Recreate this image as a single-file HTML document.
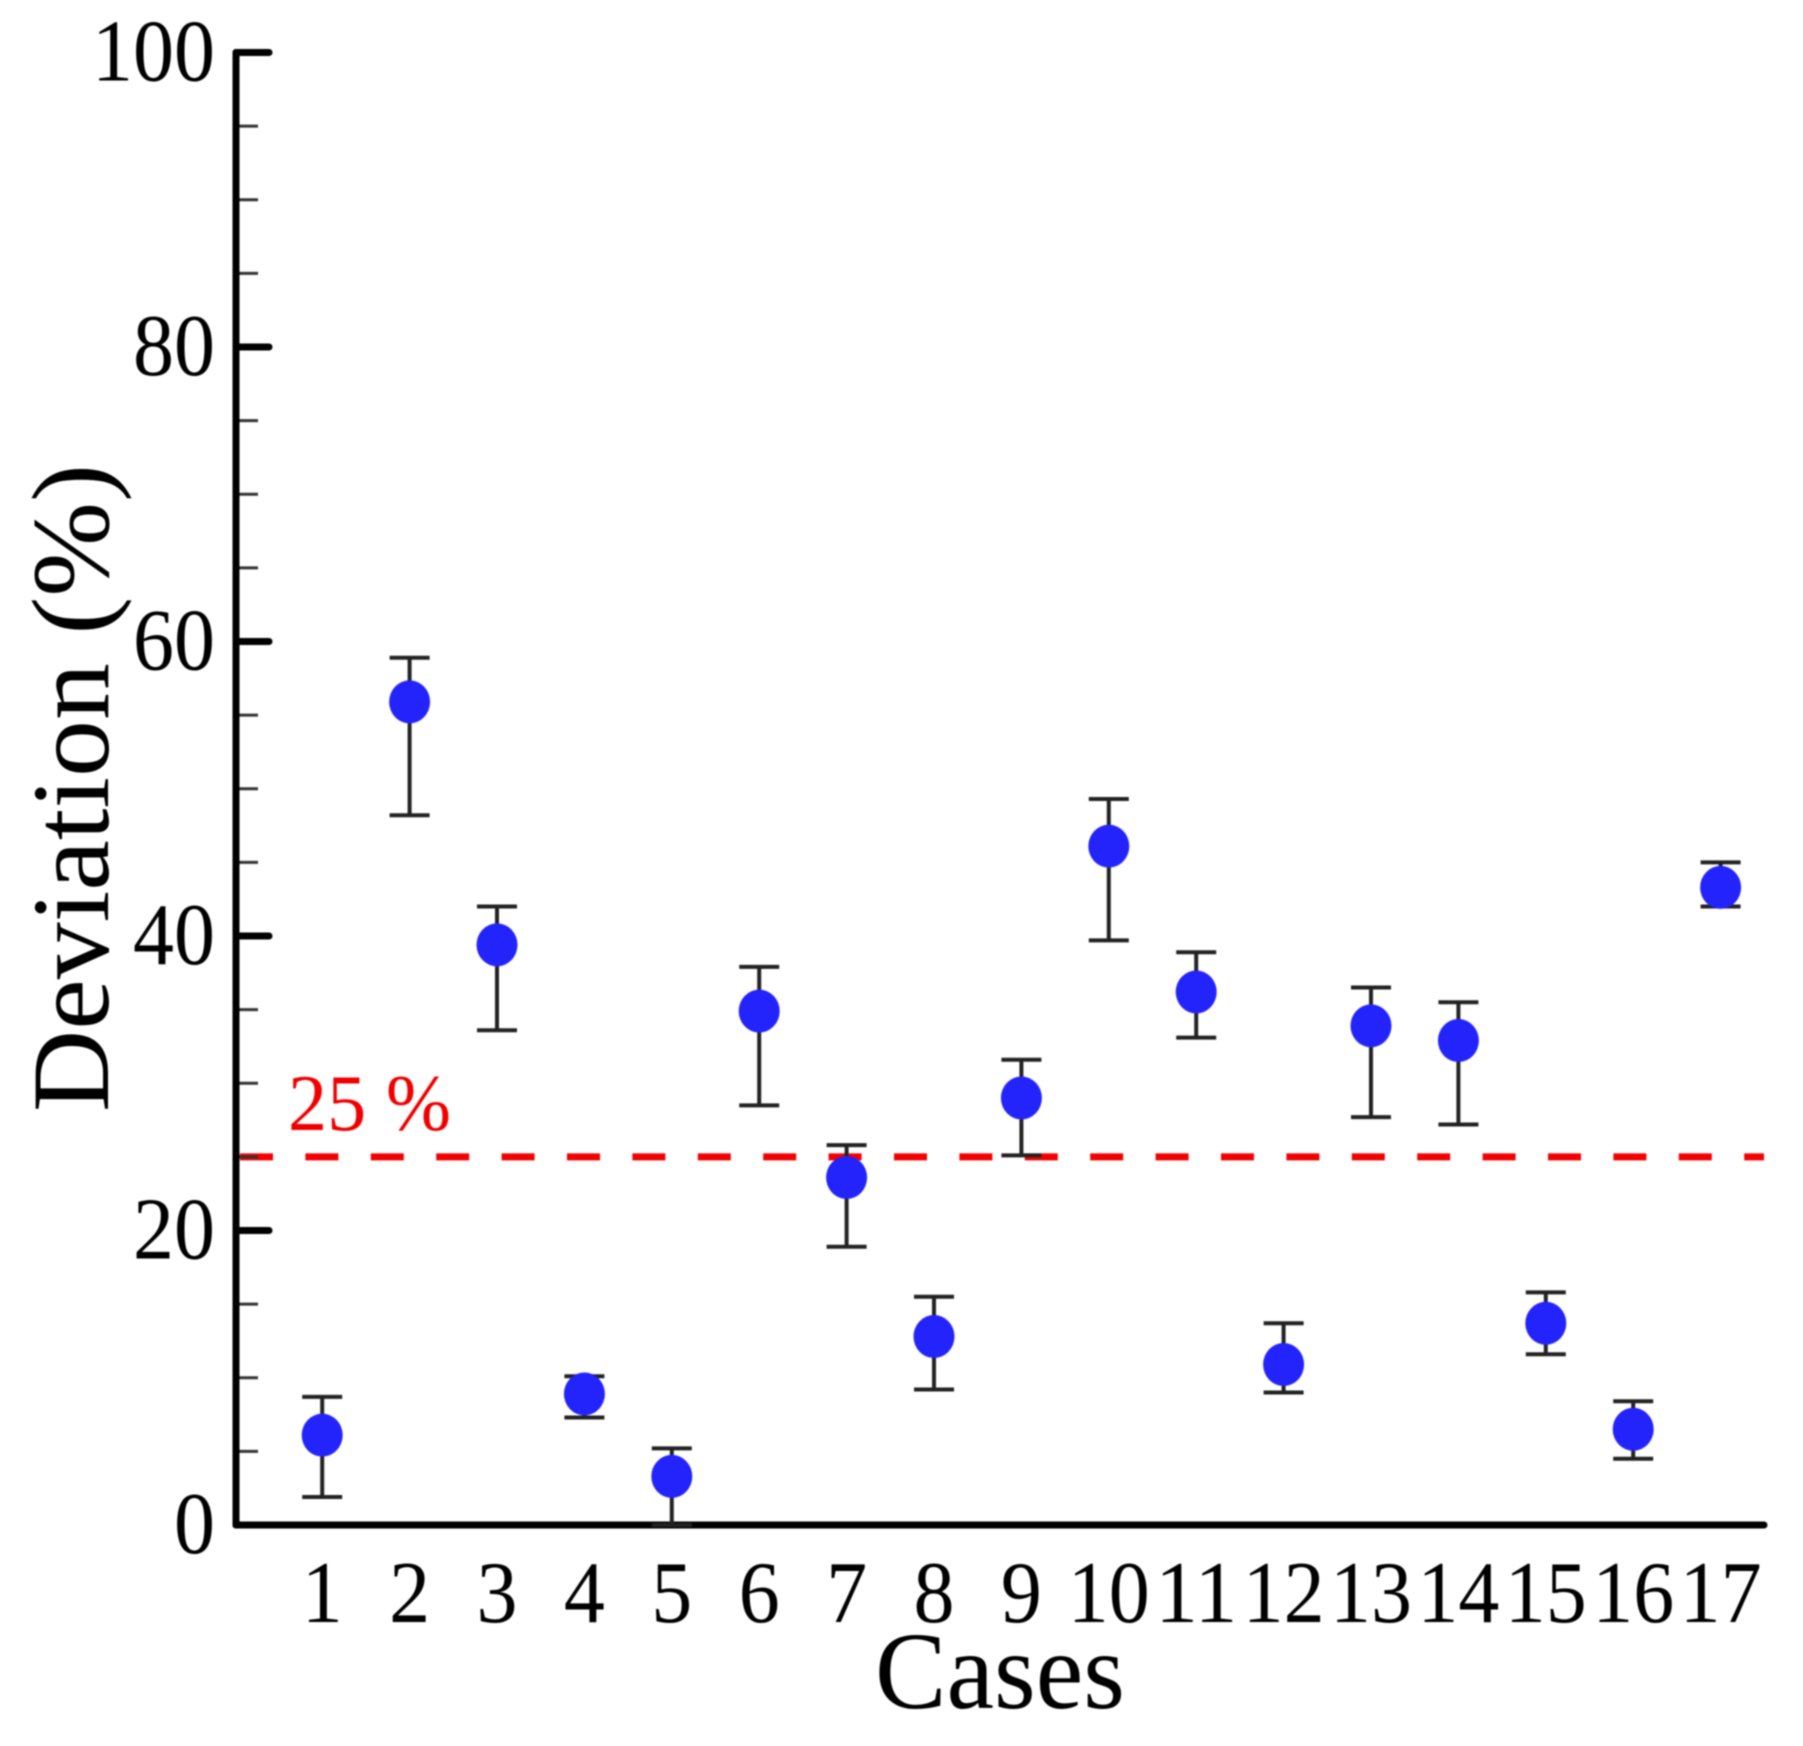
<!DOCTYPE html>
<html lang="en">
<head>
<meta charset="utf-8">
<title>Deviation by case</title>
<style>
html,body{margin:0;padding:0;background:#fff;}
#chart{display:block;width:1803px;height:1746px;filter:blur(0.9px);font-family:"Liberation Serif",serif;}
</style>
</head>
<body>
<svg id="chart" xmlns="http://www.w3.org/2000/svg" width="1803" height="1746" viewBox="0 0 1803 1746"></svg>
<script>
const categories = [1,2,3,4,5,6,7,8,9,10,11,12,13,14,15,16,17];
const deviation = [6.1,55.9,39.4,8.9,3.3,34.9,23.6,12.8,29,46.1,36.2,10.9,33.9,32.9,13.7,6.5,43.3];
const errorHigh = [8.7,58.9,42,10.1,5.2,37.9,25.8,15.5,31.6,49.3,38.9,13.7,36.5,35.5,15.8,8.4,45];
const errorLow = [1.9,48.2,33.6,7.3,0,28.5,18.9,9.2,25.1,39.7,33.1,9,27.7,27.2,11.6,4.5,42];
const yMajorTicks = [0,20,40,60,80,100];
const yMinorTicks = [5,10,15,25,30,35,45,50,55,65,70,75,85,90,95];
const thresholdValue = 25;
const thresholdLabel = "25 %";

const svg = document.getElementById('chart');
const NS = 'http://www.w3.org/2000/svg';
const axisLeft = 236, axisRight = 1764, axisTop = 52.5, axisBottom = 1525;
const xScale = v => 234.8 + v * 87.4;
const yScale = v => axisBottom - v * (axisBottom - axisTop) / 100;
const digitWidth = 41;

function mk(tag, attrs, text) {
  const el = document.createElementNS(NS, tag);
  for (const k in attrs) el.setAttribute(k, attrs[k]);
  if (text !== undefined) el.textContent = text;
  svg.appendChild(el);
  return el;
}

// threshold line
const thresholdLine = mk('line', {x1: axisLeft + 4, x2: axisRight, y1: yScale(thresholdValue), y2: yScale(thresholdValue), stroke: '#f40000', 'stroke-width': 7, 'stroke-dasharray': '33 32.4'});


const thresholdText = mk('text', {x: 288, y: 1130, 'font-size': 80, fill: '#f00000', textLength: 163, lengthAdjust: 'spacingAndGlyphs'}, thresholdLabel);



// minor ticks
yMinorTicks.forEach(v => {
  const t = mk('line', {x1: axisLeft, x2: axisLeft + 22, y1: yScale(v), y2: yScale(v), stroke: '#333', 'stroke-width': 3});
  
  
});

// major ticks and labels
yMajorTicks.forEach(v => {
  const t = mk('line', {x1: axisLeft, x2: axisLeft + 33, y1: yScale(v), y2: yScale(v), stroke: '#000', 'stroke-width': 7, 'stroke-linecap': 'round'});
  
  
  const s = String(v);
  const l = mk('text', {x: 215, y: yScale(v) + 28, 'font-size': 88, 'text-anchor': 'end', fill: '#000', textLength: s.length * digitWidth, lengthAdjust: 'spacingAndGlyphs'}, s);
  
  
});

// axes
const yAxis = mk('line', {x1: axisLeft, x2: axisLeft, y1: axisTop, y2: axisBottom, stroke: '#000', 'stroke-width': 7, 'stroke-linecap': 'round'});


const xAxis = mk('line', {x1: axisLeft, x2: axisRight, y1: axisBottom, y2: axisBottom, stroke: '#000', 'stroke-width': 7, 'stroke-linecap': 'round'});



// x labels
categories.forEach(c => {
  const s = String(c);
  const l = mk('text', {x: xScale(c), y: 1622, 'font-size': 88, 'text-anchor': 'middle', fill: '#000', textLength: s.length * digitWidth, lengthAdjust: 'spacingAndGlyphs'}, s);
  
  
});

// error bars
categories.forEach((c, i) => {
  const x = xScale(c), yh = yScale(errorHigh[i]), yl = yScale(errorLow[i]);
  const stem = mk('line', {x1: x, x2: x, y1: yh, y2: yl, stroke: '#222', 'stroke-width': 4});
  
  
  const capTop = mk('line', {x1: x - 20, x2: x + 20, y1: yh, y2: yh, stroke: '#222', 'stroke-width': 4});
  
  
  const capBot = mk('line', {x1: x - 20, x2: x + 20, y1: yl, y2: yl, stroke: '#222', 'stroke-width': 4});
  
  
});

// points
categories.forEach((c, i) => {
  const p = mk('ellipse', {cx: xScale(c), cy: yScale(deviation[i]), rx: 20.5, ry: 21.5, fill: '#2323fb'});
  
  
});

// axis titles
const xTitle = mk('text', {x: 1000, y: 1708, 'font-size': 110, 'text-anchor': 'middle', fill: '#000', textLength: 250, lengthAdjust: 'spacingAndGlyphs'}, 'Cases');


const yTitle = mk('text', {x: 0, y: 0, 'font-size': 110, 'text-anchor': 'middle', fill: '#000', textLength: 648, lengthAdjust: 'spacingAndGlyphs', transform: 'translate(108 788) rotate(-90)'}, 'Deviation (%)');


</script>
</body>
</html>
